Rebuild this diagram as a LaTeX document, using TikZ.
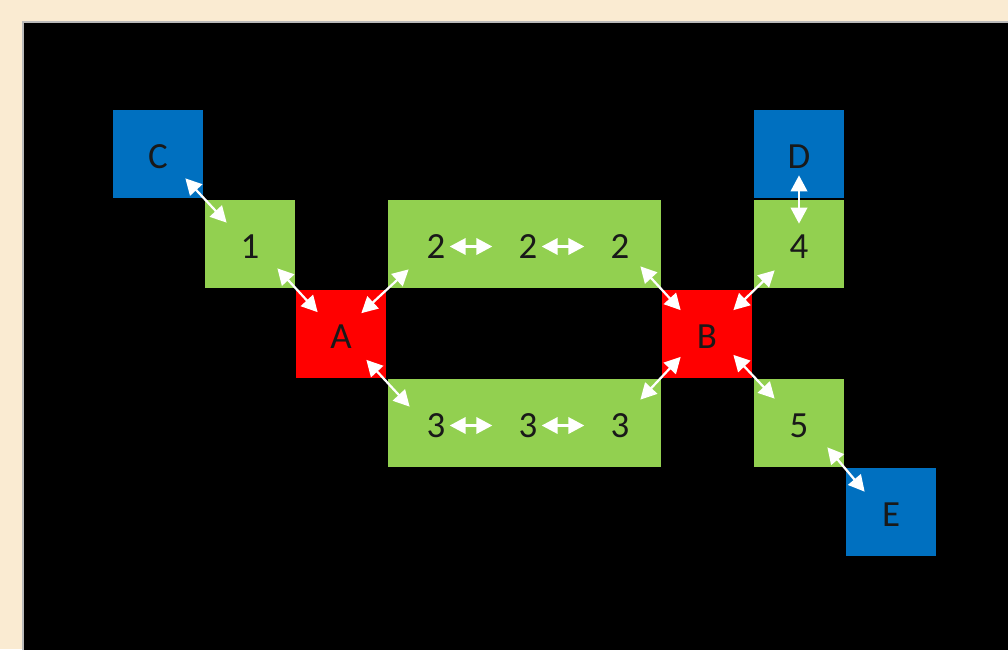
\documentclass[tikz,border=0pt]{standalone}
\usepackage{fontspec}
\setmainfont{Carlito}
\usepackage{tikz}
\usetikzlibrary{positioning,arrows.meta,calc}
\definecolor{cBack}{RGB}{250,235,210}
\definecolor{cFrame}{RGB}{185,185,185}
\definecolor{cBlue}{RGB}{0,112,192}
\definecolor{cGreen}{RGB}{146,208,80}
\definecolor{cRed}{RGB}{255,0,0}
\definecolor{cInk}{RGB}{25,25,25}
\tikzset{
  cell/.style={minimum width=1.8cm,minimum height=1.76cm,inner sep=0pt,
    text=cInk,text height=0.58cm,text depth=0cm},
  endcell/.style={cell,fill=cBlue},
  midcell/.style={cell,fill=cGreen},
  hubcell/.style={cell,fill=cRed},
  digit/.style={inner sep=0pt,text=cInk},
  link/.style={white,line width=0.045cm,
    {Triangle[length=0.32cm,width=0.33cm]}-{Triangle[length=0.32cm,width=0.33cm]}}
}

\begin{document}
\begin{tikzpicture}[font=\fontsize{21}{25}\selectfont]
 \useasboundingbox (0,0) rectangle (20.16,-12.98);
 % ---- background ----
 \fill[cBack] (0,0) rectangle (20.16,-12.98);
 \filldraw[fill=black,draw=cFrame,line width=0.04cm] (0.46,-0.43) rectangle (20.4,-13.2);
 % ---- cells ----
 \node[endcell] (C) at (3.16,-3.08) {C};
 \node[midcell] (n1) at (5.00,-4.88) {1};
 \node[hubcell] (A) at (6.82,-6.67) {A};
 \node[midcell,minimum width=5.46cm] (top) at (10.49,-4.88) {};
 \node[midcell,minimum width=5.46cm] (bot) at (10.49,-8.46) {};
 \node[hubcell] (B) at (14.14,-6.67) {B};
 \node[endcell] (D) at (15.98,-3.08) {D};
 \node[midcell] (n4) at (15.98,-4.88) {4};
 \node[midcell] (n5) at (15.98,-8.46) {5};
 \node[endcell] (E) at (17.82,-10.24) {E};
 % ---- chain in the long cells ----
 \node[digit] (t1) at (8.72,-4.93) {2};
 \node[digit] (t2) at (10.56,-4.93) {2};
 \node[digit] (t3) at (12.40,-4.93) {2};
 \node[digit] (b1) at (8.72,-8.51) {3};
 \node[digit] (b2) at (10.56,-8.51) {3};
 \node[digit] (b3) at (12.40,-8.51) {3};
 \draw[link,shorten <=0.08cm,shorten >=0.52cm] (t1) -- (t2);
 \draw[link,shorten <=0.08cm,shorten >=0.52cm] (t2) -- (t3);
 \draw[link,shorten <=0.08cm,shorten >=0.52cm] (b1) -- (b2);
 \draw[link,shorten <=0.08cm,shorten >=0.52cm] (b2) -- (b3);
 % ---- corner links ----
 \draw[link] ($(C.south east)+(-0.36,0.4)$) -- ($(n1.north west)+(0.44,-0.46)$);
 \draw[link] ($(n1.south east)+(-0.36,0.4)$) -- ($(A.north west)+(0.44,-0.46)$);
 \draw[link] ($(A.north east)+(-0.5,-0.48)$) -- ($(top.south west)+(0.42,0.38)$);
 \draw[link] ($(A.south east)+(-0.4,0.36)$) -- ($(bot.north west)+(0.44,-0.56)$);
 \draw[link] ($(top.south east)+(-0.42,0.44)$) -- ($(B.north west)+(0.38,-0.42)$);
 \draw[link] ($(bot.north east)+(-0.42,-0.42)$) -- ($(B.south west)+(0.38,0.42)$);
 \draw[link] ($(B.north east)+(-0.38,-0.42)$) -- ($(n4.south west)+(0.42,0.36)$);
 \draw[link] ($(B.south east)+(-0.38,0.46)$) -- ($(n5.north west)+(0.42,-0.4)$);
 \draw[link] ($(n5.south east)+(-0.34,0.4)$) -- ($(E.north west)+(0.38,-0.48)$);
 \draw[link] ($(D.south)+(0,0.46)$) -- ($(n4.north)+(0,-0.48)$);
\end{tikzpicture}
\end{document}
